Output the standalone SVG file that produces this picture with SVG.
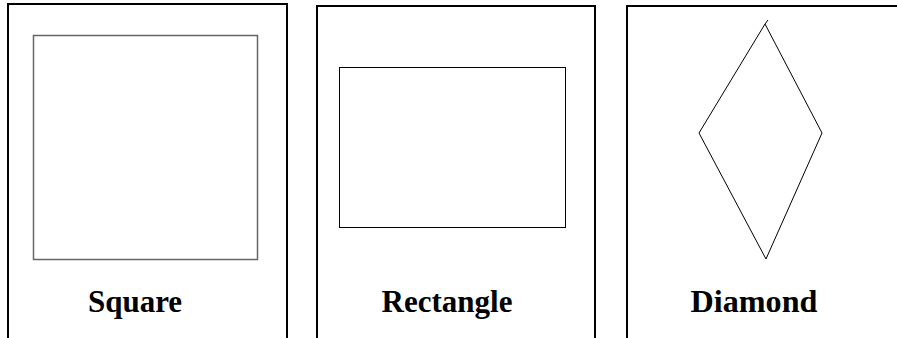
<svg xmlns="http://www.w3.org/2000/svg" width="897" height="338" viewBox="0 0 897 338">
<style>
.panel{fill:#fff;stroke:#000;stroke-width:2}
.lbl{font-family:"Liberation Serif","Times New Roman",serif;font-weight:bold;font-size:31px;text-anchor:middle;fill:#000}
.shape{fill:none;stroke:#000;stroke-width:1}
</style>
<rect width="897" height="338" fill="#fff"/>
<g id="square-card">
<rect class="panel" x="8" y="4" width="279" height="400"/>
<rect x="33.5" y="35.5" width="224" height="224" fill="none" stroke="#666" stroke-width="1.5"/>
<text class="lbl" x="135" y="312">Square</text>
</g>
<g id="rectangle-card">
<rect class="panel" x="317" y="6" width="278" height="400"/>
<rect class="shape" x="339.5" y="67.5" width="226" height="160"/>
<text class="lbl" x="447" y="312">Rectangle</text>
</g>
<g id="diamond-card">
<rect class="panel" x="627" y="6" width="300" height="400"/>
<polygon class="shape" points="765,24 822,133 766,259 699,133"/>
<path d="M765,24 L768,20" class="shape" stroke-width="1.5"/>
<text class="lbl" x="754" y="312" textLength="127" lengthAdjust="spacingAndGlyphs">Diamond</text>
</g>
<g id="connectors"></g>
</svg>
